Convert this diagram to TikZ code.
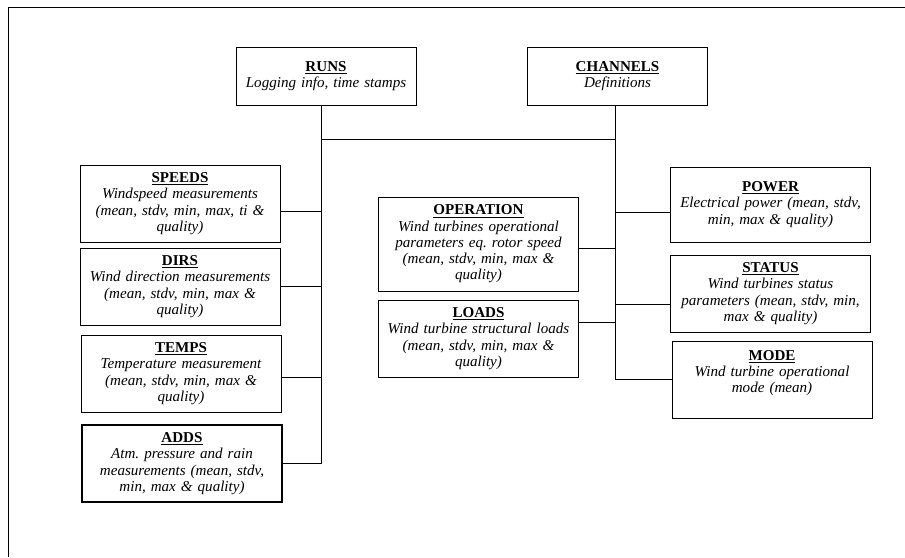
\documentclass[tikz,border=0pt]{standalone}
\usepackage{fontspec}
\setmainfont{Liberation Serif}
\newcommand{\tbl}[1]{\textup{\textbf{\underline{#1}}}}

\begin{document}
\begin{tikzpicture}[x=0.75pt,y=-0.75pt,line width=0.6pt,
	tablebox/.style={draw,align=center,inner sep=2pt,text width=146pt,
		minimum height=57.75pt,font=\fontsize{11.3}{12.2}\selectfont\itshape}]
		\useasboundingbox (0,0) rectangle (905,557);
		\draw (8,557) -- (8,7) -- (905,7);
		\node[tablebox,text width=131pt,minimum height=43.5pt] (runs) at (326,76) {\tbl{RUNS}\\ Logging info, time stamps};
		\node[tablebox,text width=131pt,minimum height=43.5pt] (channels) at (617.5,76) {\tbl{CHANNELS}\\ Definitions};
		\node[tablebox] (speeds) at (180,203.5) {\tbl{SPEEDS}\\ Windspeed measurements\\ (mean, stdv, min, max, ti \&\\ quality)};
		\node[tablebox] (dirs) at (180,286.5) {\tbl{DIRS}\\ Wind direction measurements\\ (mean, stdv, min, max \&\\ quality)};
		\node[tablebox] (temps) at (181,373.5) {\tbl{TEMPS}\\ Temperature measurement\\ (mean, stdv, min, max \&\\ quality)};
		\node[tablebox,line width=0.8pt] (adds) at (182,463.5) {\tbl{ADDS}\\ Atm.\ pressure and rain\\ measurements (mean, stdv,\\ min, max \& quality)};
		\node[tablebox,minimum height=70.5pt] (operation) at (478.5,244) {\tbl{OPERATION}\\ Wind turbines operational\\ parameters eq.\ rotor speed\\ (mean, stdv, min, max \&\\ quality)};
		\node[tablebox] (loads) at (478.5,338.5) {\tbl{LOADS}\\ Wind turbine structural loads\\ (mean, stdv, min, max \&\\ quality)};
		\node[tablebox,minimum height=56.25pt] (power) at (770.5,204.5) {\tbl{POWER}\\ Electrical power (mean, stdv,\\ min, max \& quality)};
		\node[tablebox] (status) at (770.5,293.5) {\tbl{STATUS}\\ Wind turbines status\\ parameters (mean, stdv, min,\\ max \& quality)};
		\node[tablebox] (mode) at (772,379.5) {\tbl{MODE}\\ Wind turbine operational\\ mode (mean)\\ \mbox{}};
		\coordinate (lbus) at (321,139);
		\coordinate (rbus) at (615,139);
		\draw (runs.south -| lbus) -- (lbus |- adds.east) -- (adds.east);
		\draw (channels.south -| rbus) -- (rbus |- mode.west) -- (mode.west);
		\draw (lbus) -- (rbus);
		\draw ([yshift=-6pt]speeds.east) -- ([yshift=-6pt]speeds.east -| lbus);
		\draw (dirs.east) -- (dirs.east -| lbus);
		\draw ([yshift=-3pt]temps.east) -- ([yshift=-3pt]temps.east -| lbus);
		\draw ([yshift=-3pt]operation.east) -- ([yshift=-3pt]operation.east -| rbus);
		\draw ([yshift=12pt]loads.east) -- ([yshift=12pt]loads.east -| rbus);
		\draw ([yshift=-6pt]power.west) -- ([yshift=-6pt]power.west -| rbus);
		\draw ([yshift=-8pt]status.west) -- ([yshift=-8pt]status.west -| rbus);
	\end{tikzpicture}
\end{document}
